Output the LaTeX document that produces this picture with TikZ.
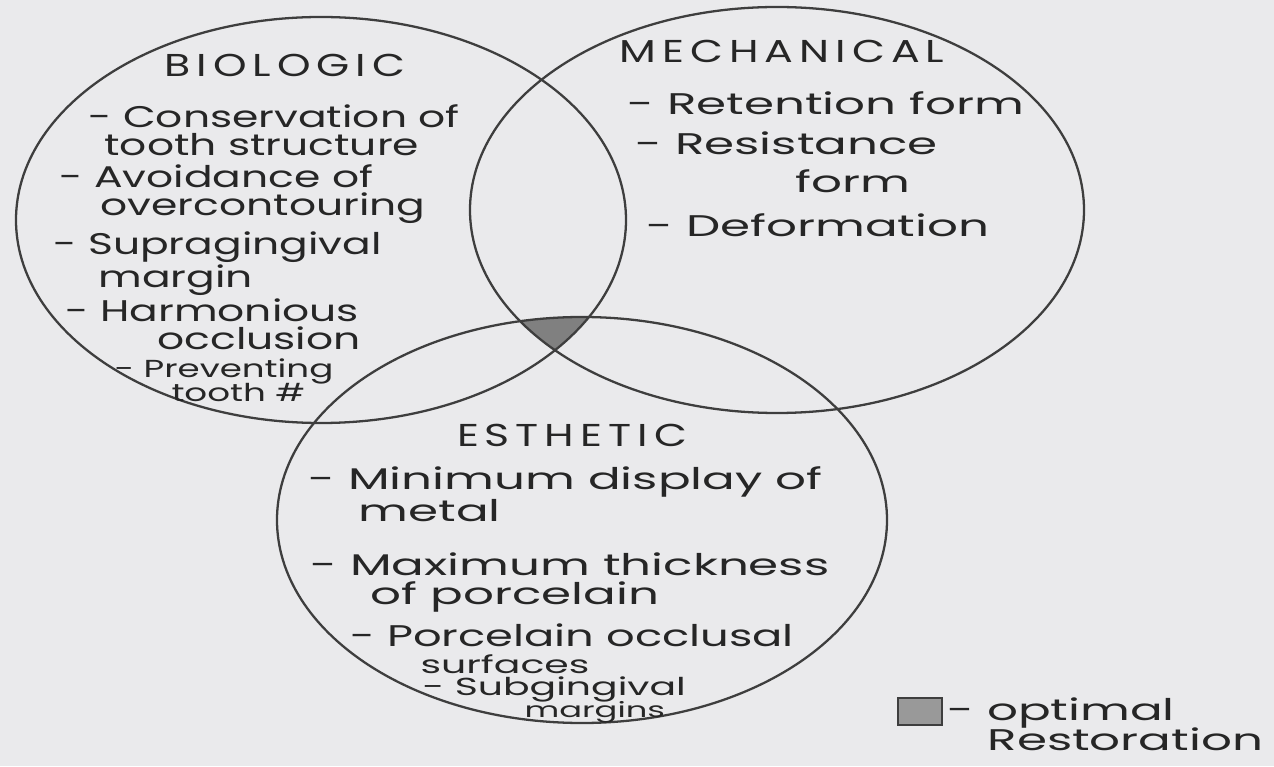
\documentclass[tikz,border=0pt]{standalone}
\usepackage{fontspec}
\setmainfont{Poppins}
\newfontfamily\headfont[LetterSpace=14]{Poppins}
\usepackage{tikz}
\definecolor{Paper}{RGB}{234,234,236}
\definecolor{Pencil}{RGB}{62,62,62}
\definecolor{Ink}{RGB}{38,38,38}
\definecolor{Shade}{RGB}{128,128,128}
\tikzset{
	ring/.style={draw=Pencil,line width=1.3pt},
	hand/.style={anchor=base west,inner sep=0pt,text=Ink,xscale=#1,font=\fontsize{17}{19}\selectfont},
	hand/.default=1.62,
	small/.style={hand=#1,font=\fontsize{14}{16}\selectfont},
	small/.default=1.6,
	tiny/.style={hand=1.6,font=\fontsize{12}{13}\selectfont},
	head/.style={anchor=base,inner sep=0pt,text=Ink,xscale=1.35,font=\headfont\fontsize{18}{20}\selectfont}
}
\newcommand*{\bioSet}{(6.42,10.92) ellipse [x radius=6.1cm,y radius=4.06cm]}
\newcommand*{\mechSet}{(15.54,11.12) ellipse [x radius=6.14cm,y radius=4.06cm]}
\newcommand*{\estSet}{(11.64,4.92) ellipse [x radius=6.1cm,y radius=4.06cm]}

\begin{document}
\begin{tikzpicture}
\fill[Paper] (0,0) rectangle (25.48,15.32);
\useasboundingbox (0,0) rectangle (25.48,15.32);

% common part of the three sets
\begin{scope}
	\clip \bioSet;
	\clip \mechSet;
	\fill[Shade] \estSet;
\end{scope}

\draw[ring] \bioSet;
\draw[ring] \mechSet;
\draw[ring] \estSet;

% biologic
\node[head] (bioTitle) at (5.70,13.78) {BIOLOGIC};
\node[hand=1.42] (b1) at (1.76,12.76) {- Conservation of};
\node[hand=1.42] (b1b) at (2.08,12.20) {tooth structure};
\node[hand=1.42] (b2) at (1.18,11.56) {- Avoidance of};
\node[hand=1.42] (b2b) at (2.00,11.00) {overcontouring};
\node[hand=1.42] (b3) at (1.06,10.22) {- Supragingival};
\node[hand=1.42] (b3b) at (1.96,9.56) {margin};
\node[hand=1.42] (b4) at (1.30,8.88) {- Harmonious};
\node[hand=1.42] (b4b) at (3.14,8.32) {occlusion};
\node[small=1.45] (b5) at (2.28,7.76) {- Preventing};
\node[small=1.45] (b5b) at (3.42,7.28) {tooth \#};

% mechanical
\node[head] (mechTitle) at (15.64,14.06) {MECHANICAL};
\node[hand] (m1) at (12.54,13.02) {- Retention form};
\node[hand] (m2) at (12.70,12.22) {- Resistance};
\node[hand] (m2b) at (15.90,11.46) {form};
\node[hand] (m3) at (12.92,10.58) {- Deformation};

% esthetic
\node[head] (estTitle) at (11.44,6.38) {ESTHETIC};
\node[hand] (e1) at (6.16,5.52) {- Minimum display of};
\node[hand] (e1b) at (7.16,4.88) {metal};
\node[hand] (e2) at (6.20,3.80) {- Maximum thickness};
\node[hand] (e2b) at (7.40,3.22) {of porcelain};
\node[hand=1.5] (e3) at (7.00,2.40) {- Porcelain occlusal};
\node[small] (e3b) at (8.40,1.86) {surfaces};
\node[small] (e4) at (8.44,1.42) {- Subgingival};
\node[tiny] (e4b) at (10.48,0.98) {margins};

% key
\node[draw=Pencil,line width=1pt,fill=Shade!80,minimum width=0.88cm,minimum height=0.54cm,inner sep=0pt] (key) at (18.40,1.09) {};
\node[hand] (keyText) at (18.94,0.92) {- optimal};
\node[hand] (keyText2) at (19.74,0.32) {Restoration};
\end{tikzpicture}
\end{document}
